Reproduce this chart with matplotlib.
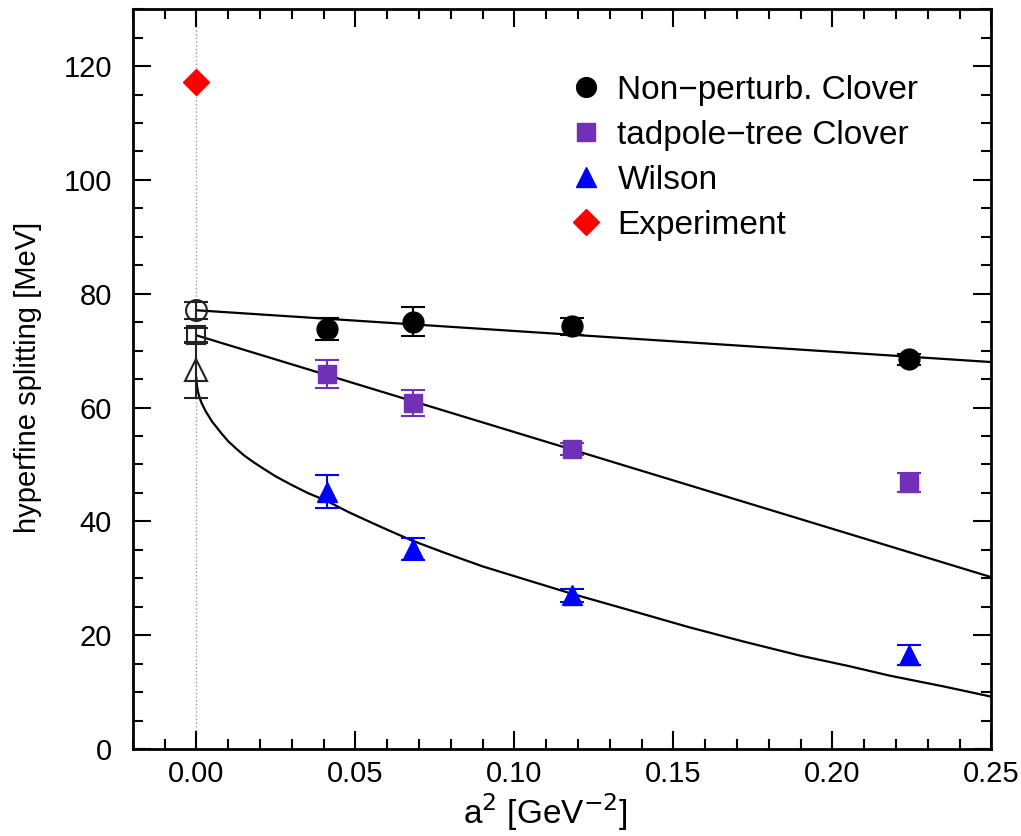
import numpy as np
import matplotlib
matplotlib.use("Agg")
import matplotlib.pyplot as plt
from matplotlib.ticker import MultipleLocator

plt.rcParams['font.family'] = ['Liberation Sans', 'DejaVu Sans']

# --- data ---
a2 = [0.041, 0.068, 0.118, 0.224]

npc_y = [73.8, 75.1, 74.3, 68.5]
npc_err = [2.0, 2.5, 1.5, 1.0]

tad_y = [65.9, 60.8, 52.7, 46.8]
tad_err = [2.4, 2.3, 1.0, 1.7]

wil_y = [45.2, 35.2, 27.0, 16.5]
wil_err = [2.9, 1.9, 1.2, 1.7]

exp_x = [0.0]
exp_y = [117.2]

# continuum extrapolations at a^2 = 0
ext_npc = (77.1, 1.5)
ext_tad = (72.7, 1.3)
ext_wil = (66.6, 5.0)

# fit lines
npc_fit_x = [0.0, 0.25]
npc_fit_y = [77.1, 68.0]
tad_fit_x = [0.0, 0.25]
tad_fit_y = [72.7, 30.2]
wil_fit_x = [0.0, 0.0002, 0.0005, 0.001, 0.0015, 0.002, 0.003, 0.004, 0.005,
             0.006, 0.008, 0.010, 0.0125, 0.015, 0.018, 0.021, 0.025, 0.030,
             0.035, 0.041, 0.048, 0.055, 0.061, 0.068, 0.078, 0.090, 0.104,
             0.118, 0.135, 0.155, 0.172, 0.190, 0.205, 0.218, 0.235, 0.25]
wil_fit_y = [65.2, 63.8, 62.8, 61.8, 61.0, 60.4, 59.3, 58.4, 57.5,
             56.8, 55.4, 54.1, 52.8, 51.6, 50.4, 49.3, 47.9, 46.4,
             45.0, 43.6, 41.6, 39.8, 38.3, 36.6, 34.5, 32.1, 29.7,
             27.3, 24.6, 21.4, 18.9, 16.4, 14.6, 12.9, 11.0, 9.2]

black = '#000000'
purple = '#7030b8'
blue = '#0000ff'
red = '#ff0000'

fig = plt.figure(figsize=(10.21, 8.36), dpi=100)
ax = fig.add_axes([0.130, 0.104, 0.841, 0.885])

ax.axvline(0.0, color='#999999', ls=':', lw=1.0, zorder=0)

# fit curves
ax.plot(npc_fit_x, npc_fit_y, color='black', lw=1.6, zorder=2)
ax.plot(tad_fit_x, tad_fit_y, color='black', lw=1.6, zorder=2)
ax.plot(wil_fit_x, wil_fit_y, color='black', lw=1.6, zorder=2)

# error bars
eb = dict(fmt='none', capsize=8.5, elinewidth=1.5, capthick=1.5, zorder=3)
ax.errorbar(a2, npc_y, yerr=npc_err, ecolor=black, **eb)
ax.errorbar(a2, tad_y, yerr=tad_err, ecolor=purple, **eb)
ax.errorbar(a2, wil_y, yerr=wil_err, ecolor=blue, **eb)

# extrapolated points (open symbols)
for (val, err), mk, ms in [(ext_npc, 'o', 15), (ext_tad, 's', 13.5), (ext_wil, '^', 15.5)]:
    ax.errorbar([0.0], [val], yerr=[err], fmt=mk, ms=ms, mfc='none', mec='#222222',
                mew=1.5, ecolor='#222222', capsize=8.5, elinewidth=1.5, capthick=1.5, zorder=4)

# data markers
ax.plot(a2, npc_y, 'o', color=black, ms=15, ls='none', zorder=5, label='Non\u2212perturb. Clover')
ax.plot(a2, tad_y, 's', color=purple, ms=13, ls='none', zorder=5, label='tadpole\u2212tree Clover')
ax.plot(a2, wil_y, '^', color=blue, ms=15, ls='none', zorder=5, label='Wilson')
ax.plot(exp_x, exp_y, 'D', color=red, ms=13.5, ls='none', zorder=5, label='Experiment')

ax.set_xlim(-0.02, 0.25)
ax.set_ylim(0, 130)
ax.xaxis.set_major_locator(MultipleLocator(0.05))
ax.xaxis.set_minor_locator(MultipleLocator(0.01))
ax.yaxis.set_major_locator(MultipleLocator(20))
ax.yaxis.set_minor_locator(MultipleLocator(5))
ax.xaxis.set_major_formatter(plt.FuncFormatter(lambda v, p: f'{v:.2f}'))

ax.tick_params(which='both', direction='in', top=True, right=True, labelsize=21, width=1.5)
ax.tick_params(which='major', length=13)
ax.tick_params(which='minor', length=7)
ax.tick_params(axis='x', which='major', pad=8)
ax.tick_params(axis='y', which='major', pad=15)
for s in ax.spines.values():
    s.set_linewidth(2.0)

ax.set_xlabel('a$^2$ [GeV$^{-2}$]', fontsize=24)
ax.xaxis.set_label_coords(0.48, -0.057)
ax.set_ylabel('hyperfine splitting [MeV]', fontsize=21)
ax.yaxis.set_label_coords(-0.106, 0.503)

ax.legend(loc='upper left', bbox_to_anchor=(0.512, 0.911), frameon=False, fontsize=24,
          handlelength=0.8, handletextpad=0.55, borderpad=0, borderaxespad=0,
          labelspacing=0.42, markerscale=0.95)

fig.savefig('out.png', dpi=100)
